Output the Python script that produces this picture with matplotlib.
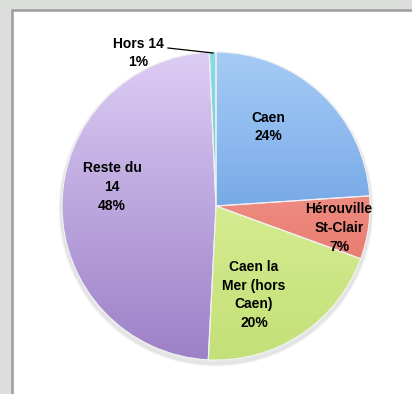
import numpy as np
import matplotlib.pyplot as plt
from matplotlib.colors import LinearSegmentedColormap
from matplotlib.patches import Rectangle

# Share of each area, clockwise from 12 o'clock
labels = ["Caen", "Hérouville\nSt-Clair", "Caen la\nMer (hors\nCaen)", "Reste du\n14", "Hors 14"]
values = [23.9, 6.6, 20.2, 48.4, 0.7]

# light (top) / dark (bottom) shade for each slice
shades = [
    ("#a6ccf6", "#4a88d8"),
    ("#f6aaa2", "#e4685a"),
    ("#e6f6a8", "#c4e078"),
    ("#dccdf4", "#9c80c8"),
    ("#8adbe4", "#4fb8c8"),
]

# label centres in pixel coords (y measured from top)
label_pos = [(268, 127), (339, 228), (254, 295), (112, 187), (138, 53)]

W, H = 412, 394
cx, cy, R = 216, H - 206, 154

fig = plt.figure(figsize=(W / 100, H / 100), dpi=100)
fig.patch.set_facecolor("#dcdedb")
ax = fig.add_axes([0, 0, 1, 1])

# white panel with grey frame
ax.add_patch(Rectangle((12, -20), W, H - 10 + 20, facecolor="white",
                       edgecolor="#9c9c9c", linewidth=1.8, zorder=0))

# faint shadow under the pie
for i in range(6):
    ax.add_patch(plt.Circle((cx, cy - 3), R + 3 - i * 0.5, color="#000000",
                            alpha=0.015, zorder=1))

wedges, _ = ax.pie(values, startangle=90, counterclock=False, center=(cx, cy),
                   radius=R, frame=True,
                   wedgeprops=dict(edgecolor="#f2f2f2", linewidth=0.8))

# vertical gradient in each slice
grad = np.linspace(0, 1, 256).reshape(-1, 1)
for w, (light, dark) in zip(wedges, shades):
    cmap = LinearSegmentedColormap.from_list("g", [dark, light])
    w.set_facecolor("none")
    w.set_zorder(3)
    im = ax.imshow(grad, cmap=cmap, origin="lower", aspect="auto",
                   extent=(cx - R, cx + R, cy - R, cy + R), zorder=2)
    im.set_clip_path(w)

ax.set_xlim(0, W)
ax.set_ylim(0, H)
ax.set_aspect("equal")
ax.axis("off")

total = sum(values)
for lab, v, (x, y) in zip(labels, values, label_pos):
    pct = round(100 * v / total)
    ax.text(x, H - y, f"{lab}\n{pct}%", ha="center", va="center",
            fontsize=10, fontweight="bold", family="Liberation Sans",
            linespacing=1.45, color="black", zorder=5)

# leader line for the thin slice
ax.plot([168, 213], [H - 48, H - 53], color="black", linewidth=0.9, zorder=5)

fig.savefig("out.png", dpi=100, facecolor=fig.get_facecolor())
